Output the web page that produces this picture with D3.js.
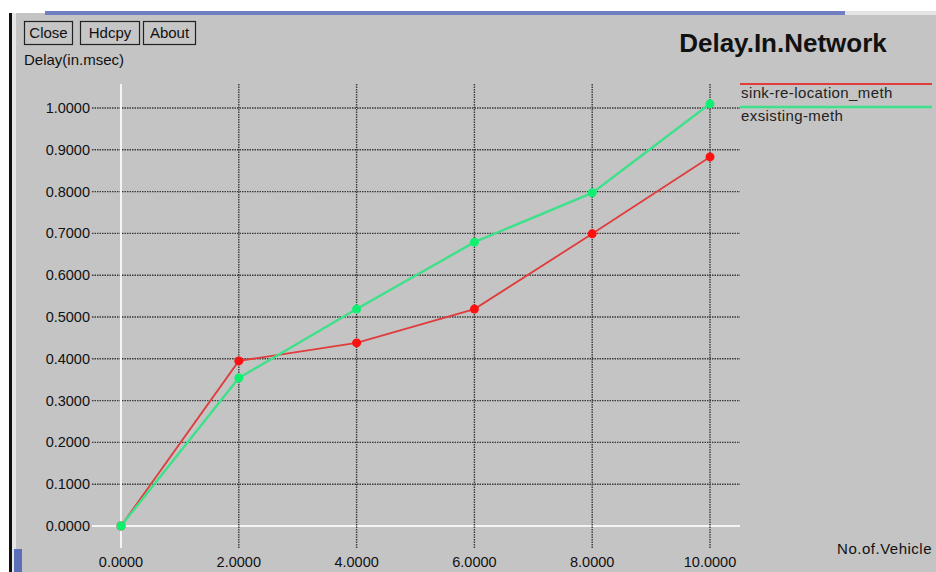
<!DOCTYPE html>
<html>
<head>
<meta charset="utf-8">
<script src="https://cdn.jsdelivr.net/npm/d3@7/dist/d3.min.js"></script>
<style>
  html, body { margin: 0; padding: 0; background: #fff; }
  svg { display: block; }
  text { font-family: "Liberation Sans", Arial, sans-serif; }
</style>
</head>
<body>
<script>
// Delay in network versus number of vehicles (xgraph style plot)
const xTicks = [0, 2, 4, 6, 8, 10];
const yTicks = [0, 0.1, 0.2, 0.3, 0.4, 0.5, 0.6, 0.7, 0.8, 0.9, 1.0];
const vehicles = [0, 2, 4, 6, 8, 10];
const sinkRelocation = [0.0, 0.395, 0.438, 0.519, 0.699, 0.883];
const existing = [0.0, 0.354, 0.519, 0.679, 0.797, 1.010];
const seriesNames = ["sink-re-location_meth", "exsisting-meth"];
const buttonLabels = ["Close", "Hdcpy", "About"];

const W = 936, H = 572;
const svg = d3.select("body").append("svg").attr("width", W).attr("height", H);

// window frame
svg.append("rect").attr("x", 0).attr("y", 0).attr("width", W).attr("height", H).attr("fill", "#ffffff");
svg.append("rect").attr("x", 12).attr("y", 13).attr("width", W - 12).attr("height", H - 13).attr("fill", "#c4c4c4");
svg.append("rect").attr("x", 45).attr("y", 11).attr("width", 800).attr("height", 4).attr("fill", "#6f7fbf");
svg.append("rect").attr("x", 845).attr("y", 11).attr("width", 91).attr("height", 4).attr("fill", "#e4e4e4");
svg.append("rect").attr("x", 9).attr("y", 13).attr("width", 3).attr("height", H - 13).attr("fill", "#111");
svg.append("rect").attr("x", 12).attr("y", 13).attr("width", 4).attr("height", H - 13).attr("fill", "#e6e6e6");
svg.append("rect").attr("x", 14).attr("y", 549).attr("width", 8).attr("height", 23).attr("fill", "#5a6fb8");

// buttons
const btnX = [24, 80, 143], btnW = [48, 59, 52];
buttonLabels.forEach((b, i) => {
  svg.append("rect").attr("x", btnX[i] + 0.5).attr("y", 21.5).attr("width", btnW[i]).attr("height", 23)
    .attr("fill", "#c6c6c6").attr("stroke", "#222").attr("stroke-width", 1.2);
  svg.append("text").attr("x", btnX[i] + btnW[i] / 2 + 0.5).attr("y", 38).attr("text-anchor", "middle")
    .attr("font-size", 15).attr("fill", "#111").text(b);
});

svg.append("text").attr("x", 24).attr("y", 65).attr("font-size", 15).attr("fill", "#111").text("Delay(in.msec)");
svg.append("text").attr("x", 783).attr("y", 52).attr("text-anchor", "middle").attr("font-size", 26)
  .attr("font-weight", "bold").attr("fill", "#111").text("Delay.In.Network");
svg.append("text").attr("x", 932).attr("y", 554).attr("text-anchor", "end").attr("font-size", 15)
  .attr("letter-spacing", 0.5).attr("fill", "#111").text("No.of.Vehicle");

// scales
const x = d3.scaleLinear().domain([0, 10]).range([121, 710]);
const y = d3.scaleLinear().domain([0, 1]).range([526, 108]);
const gridX0 = 92, gridX1 = 740, gridY0 = 84, gridY1 = 548;

// horizontal grid
yTicks.forEach(t => {
  svg.append("line").attr("x1", gridX0).attr("x2", gridX1).attr("y1", y(t)).attr("y2", y(t))
    .attr("stroke", t === 0 ? "#f4f4f4" : "#3a3a3a").attr("stroke-width", t === 0 ? 2 : 1.4)
    .attr("stroke-dasharray", t === 0 ? null : "1.5,1");
  svg.append("text").attr("x", 90).attr("y", y(t) + 5).attr("text-anchor", "end").attr("font-size", 14.5)
    .attr("fill", "#111").text(d3.format(".4f")(t));
});
// vertical grid
xTicks.forEach(t => {
  svg.append("line").attr("x1", x(t)).attr("x2", x(t)).attr("y1", gridY0).attr("y2", gridY1)
    .attr("stroke", t === 0 ? "#f4f4f4" : "#3a3a3a").attr("stroke-width", t === 0 ? 2 : 1.4)
    .attr("stroke-dasharray", t === 0 ? null : "1.5,1");
  svg.append("text").attr("x", x(t)).attr("y", 567).attr("text-anchor", "middle").attr("font-size", 14.5)
    .attr("fill", "#111").text(d3.format(".4f")(t));
});

const line = d3.line().x(d => x(d[0])).y(d => y(d[1]));
const series = [
  { name: seriesNames[0], vals: sinkRelocation, line: "#e03c3c", dot: "#ff1010", w: 1.8 },
  { name: seriesNames[1], vals: existing, line: "#3ee08a", dot: "#10f070", w: 2.4 }
];
series.forEach(s => {
  const pts = vehicles.map((v, i) => [v, s.vals[i]]);
  svg.append("path").datum(pts).attr("d", line).attr("fill", "none")
    .attr("stroke", s.line).attr("stroke-width", s.w);
});
series.forEach(s => {
  const pts = vehicles.map((v, i) => [v, s.vals[i]]);
  svg.selectAll(null).data(pts).enter().append("circle")
    .attr("cx", d => x(d[0])).attr("cy", d => y(d[1])).attr("r", 4.5).attr("fill", s.dot);
});

// legend
series.forEach((s, i) => {
  const ly = 84 + i * 23;
  svg.append("line").attr("x1", 740).attr("x2", 932).attr("y1", ly).attr("y2", ly)
    .attr("stroke", s.line).attr("stroke-width", s.w);
  svg.append("text").attr("x", 741).attr("y", ly + 14).attr("font-size", 15)
    .attr("letter-spacing", 0.4).attr("fill", "#222").text(s.name);
});
</script>
</body>
</html>
